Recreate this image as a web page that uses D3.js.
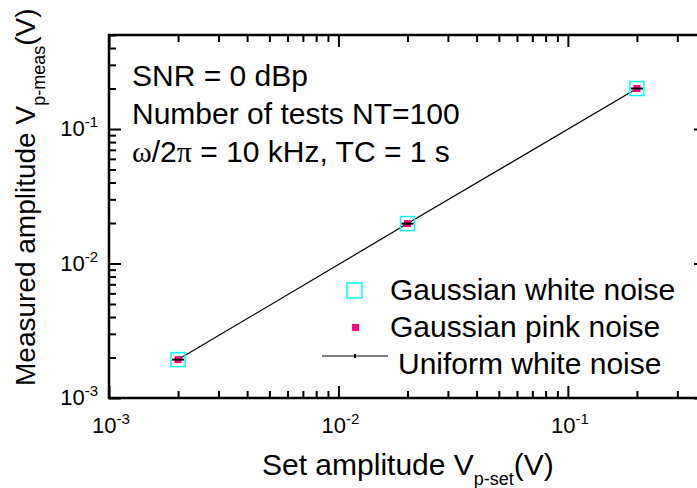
<!DOCTYPE html>
<html>
<head>
<meta charset="utf-8">
<script src="https://cdn.jsdelivr.net/npm/d3@7"></script>
<style>
  body { margin: 0; background: #fff; }
  svg { display: block; font-family: "Liberation Sans", Arial, sans-serif; }
</style>
</head>
<body>
<div id="chart"></div>
<script>
var setAmp = [0.002, 0.02, 0.2];
var gaussWhite = [0.00193, 0.0198, 0.2];
var gaussPink = [0.00193, 0.0198, 0.2];
var uniformWhite = [0.00193, 0.0198, 0.2];
var majorTicks = [1e-3, 1e-2, 1e-1];
var tickExp = ["-3", "-2", "-1"];
var seriesNames = ["Gaussian white noise", "Gaussian pink noise", "Uniform white noise"];

var width = 697, height = 488;
var pLeft = 109, pRight = 706, pTop = 35, pBottom = 398;

var svg = d3.select("#chart")
  .append("svg")
  .attr("width", width)
  .attr("height", height);

var x = d3.scaleLog().domain([1e-3, 0.4]).range([pLeft, pRight]);
var y = d3.scaleLog().domain([1e-3, 0.5]).range([pBottom, pTop]);

var xMinor = x.ticks().filter(function(d) { return majorTicks.indexOf(d) < 0; });
var yMinor = y.ticks().filter(function(d) { return majorTicks.indexOf(d) < 0; });

// ticks on all four sides, pointing inward
function addAxis(axisFn, scale, vals, size, transform) {
  var g = svg.append("g")
    .attr("transform", transform)
    .call(axisFn(scale).tickValues(vals).tickSize(size).tickFormat(""));
  g.select(".domain").remove();
  g.selectAll("line").attr("stroke", "#000").attr("stroke-width", 2);
}
addAxis(d3.axisBottom, x, majorTicks, -12, "translate(0," + pBottom + ")");
addAxis(d3.axisBottom, x, xMinor, -7, "translate(0," + pBottom + ")");
addAxis(d3.axisTop, x, majorTicks, -12, "translate(0," + pTop + ")");
addAxis(d3.axisTop, x, xMinor, -7, "translate(0," + pTop + ")");
addAxis(d3.axisLeft, y, majorTicks, -12, "translate(" + pLeft + ",0)");
addAxis(d3.axisLeft, y, yMinor, -7, "translate(" + pLeft + ",0)");
addAxis(d3.axisRight, y, majorTicks, -12, "translate(" + pRight + ",0)");
addAxis(d3.axisRight, y, yMinor, -7, "translate(" + pRight + ",0)");

svg.append("rect")
  .attr("x", pLeft)
  .attr("y", pTop)
  .attr("width", pRight - pLeft)
  .attr("height", pBottom - pTop)
  .attr("fill", "none")
  .attr("stroke", "#000")
  .attr("stroke-width", 2.5);

// tick labels 10^n
majorTicks.forEach(function(d, i) {
  var t = svg.append("text")
    .attr("x", x(d) + 2)
    .attr("y", pBottom + 35)
    .attr("text-anchor", "middle")
    .style("font-size", "22px");
  t.append("tspan").text("10");
  t.append("tspan").attr("dy", -9).style("font-size", "15px").text(tickExp[i]);

  var t2 = svg.append("text")
    .attr("x", pLeft - 11)
    .attr("y", y(d) + 7)
    .attr("text-anchor", "end")
    .style("font-size", "22px");
  t2.append("tspan").text("10");
  t2.append("tspan").attr("dy", -9).style("font-size", "15px").text(tickExp[i]);
});

// axis titles
var xt = svg.append("text")
  .attr("x", 262)
  .attr("y", 475)
  .style("font-size", "30px");
xt.append("tspan").text("Set amplitude V");
xt.append("tspan").attr("dy", 10).style("font-size", "18px").text("p-set");
xt.append("tspan").attr("dy", -10).text("(V)");

var yt = svg.append("text")
  .attr("transform", "translate(35,386) rotate(-90)")
  .style("font-size", "28px");
yt.append("tspan").text("Measured amplitude V");
yt.append("tspan").attr("dy", 10).style("font-size", "18px").text("p-meas");
yt.append("tspan").attr("dy", -10).text("(V)");

// info block
svg.append("text")
  .attr("x", 132).attr("y", 86)
  .style("font-size", "30px")
  .text("SNR = 0 dBp");
svg.append("text")
  .attr("x", 132).attr("y", 124)
  .style("font-size", "30px")
  .text("Number of tests NT=100");
var om = svg.append("text")
  .attr("x", 132).attr("y", 162)
  .style("font-size", "30px");
om.append("tspan").style("font-family", "Liberation Serif").text("\u03c9");
om.append("tspan").text("/2");
om.append("tspan").style("font-family", "Liberation Serif").text("\u03c0");
om.append("tspan").text(" = 10 kHz, TC = 1 s");

// data
var pts = setAmp.map(function(d, i) {
  return { x: d, gw: gaussWhite[i], gp: gaussPink[i], uw: uniformWhite[i] };
});

svg.append("path")
  .datum(pts)
  .attr("fill", "none")
  .attr("stroke", "#000")
  .attr("stroke-width", 1.2)
  .attr("d", d3.line().x(function(d) { return x(d.x); }).y(function(d) { return y(d.uw); }));

svg.selectAll(".gw")
  .data(pts)
  .enter().append("rect")
  .attr("x", function(d) { return x(d.x) - 7; })
  .attr("y", function(d) { return y(d.gw) - 7; })
  .attr("width", 14)
  .attr("height", 14)
  .attr("fill", "none")
  .attr("stroke", "#00ffff")
  .attr("stroke-width", 1.5);

svg.selectAll(".gp")
  .data(pts)
  .enter().append("rect")
  .attr("x", function(d) { return x(d.x) - 3.5; })
  .attr("y", function(d) { return y(d.gp) - 3.5; })
  .attr("width", 7)
  .attr("height", 7)
  .attr("fill", "#ff0080");

svg.selectAll(".uw")
  .data(pts)
  .enter().append("line")
  .attr("x1", function(d) { return x(d.x) - 6; })
  .attr("x2", function(d) { return x(d.x) + 6; })
  .attr("y1", function(d) { return y(d.uw); })
  .attr("y2", function(d) { return y(d.uw); })
  .attr("stroke", "#000")
  .attr("stroke-width", 2);

// legend
svg.append("rect")
  .attr("x", 347).attr("y", 283)
  .attr("width", 15).attr("height", 15)
  .attr("fill", "none")
  .attr("stroke", "#00ffff")
  .attr("stroke-width", 1.5);
svg.append("rect")
  .attr("x", 352).attr("y", 324)
  .attr("width", 7).attr("height", 7)
  .attr("fill", "#ff0080");
svg.append("line")
  .attr("x1", 322).attr("x2", 388)
  .attr("y1", 356).attr("y2", 356)
  .attr("stroke", "#000")
  .attr("stroke-width", 1.2);
svg.append("rect")
  .attr("x", 354).attr("y", 354)
  .attr("width", 2).attr("height", 4)
  .attr("fill", "#000");

var legX = [390, 390, 398];
var legY = [300, 337, 374];
seriesNames.forEach(function(s, i) {
  svg.append("text")
    .attr("x", legX[i])
    .attr("y", legY[i])
    .style("font-size", "30px")
    .text(s);
});
</script>
</body>
</html>
